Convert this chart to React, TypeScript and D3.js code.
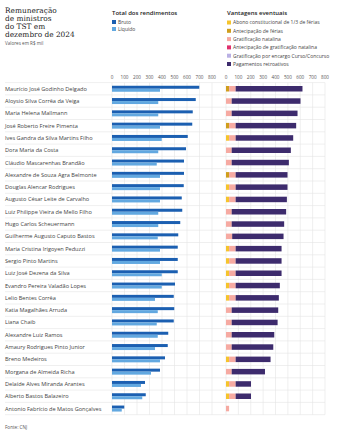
import React from "react";
import * as d3 from "d3";

const names = [
  "Maurício José Godinho Delgado",
  "Aloysio Silva Corrêa da Veiga",
  "Maria Helena Mallmann",
  "José Roberto Freire Pimenta",
  "Ives Gandra da Silva Martins Filho",
  "Dora Maria da Costa",
  "Cláudio Mascarenhas Brandão",
  "Alexandre de Souza Agra Belmonte",
  "Douglas Alencar Rodrigues",
  "Augusto César Leite de Carvalho",
  "Luiz Philippe Vieira de Mello Filho",
  "Hugo Carlos Scheuermann",
  "Guilherme Augusto Caputo Bastos",
  "Maria Cristina Irigoyen Peduzzi",
  "Sergio Pinto Martins",
  "Luiz José Dezena da Silva",
  "Evandro Pereira Valadão Lopes",
  "Lelio Bentes Corrêa",
  "Katia Magalhães Arruda",
  "Liana Chaib",
  "Alexandre Luiz Ramos",
  "Amaury Rodrigues Pinto Junior",
  "Breno Medeiros",
  "Morgana de Almeida Richa",
  "Delaíde Alves Miranda Arantes",
  "Alberto Bastos Balazeiro",
  "Antonio Fabrício de Matos Gonçalves",
];

const bruto = [698, 670, 646, 642, 606, 592, 576, 576, 574, 558, 562, 546, 530, 526, 526, 526, 504, 494, 498, 494, 450, 446, 424, 384, 264, 270, 98];
const liquido = [384, 370, 370, 384, 398, 370, 358, 384, 384, 384, 370, 370, 366, 384, 384, 398, 398, 344, 366, 358, 366, 344, 384, 312, 232, 242, 78];

const abono = [0, 0, 0, 0, 25, 0, 0, 0, 25, 25, 0, 0, 0, 25, 25, 25, 25, 25, 0, 0, 0, 0, 25, 0, 25, 25, 0];
const antecFerias = [25, 0, 0, 25, 0, 0, 0, 25, 0, 0, 0, 0, 0, 0, 0, 0, 0, 0, 0, 0, 0, 0, 0, 0, 0, 0, 0];
const gratNatal = [53, 46, 46, 53, 53, 46, 46, 53, 53, 53, 46, 46, 50, 53, 53, 53, 53, 53, 46, 46, 46, 46, 53, 46, 53, 53, 25];
const antecGrat = [0, 0, 0, 0, 0, 0, 0, 0, 0, 0, 0, 0, 0, 0, 0, 0, 0, 0, 0, 0, 0, 0, 0, 0, 0, 0, 0];
const gratCurso = [0, 0, 0, 0, 0, 0, 0, 0, 0, 0, 0, 0, 0, 0, 0, 0, 0, 0, 0, 0, 0, 0, 0, 0, 0, 0, 0];
const retroativos = [540, 556, 532, 489, 465, 478, 462, 419, 419, 414, 440, 424, 415, 371, 371, 371, 357, 349, 376, 371, 344, 336, 282, 269, 124, 124, 0];

const ticks = [0, 100, 200, 300, 400, 500, 600, 700, 800];

const titleLines = ["Remuneração", "de ministros", "do TST em", "dezembro de 2024"];
const totalLegend = ["Bruto", "Líquido"];
const vantLegend = [
  "Abono constitucional de 1/3 de férias",
  "Antecipação de férias",
  "Gratificação natalina",
  "Antecipação de gratificação natalina",
  "Gratificação por encargo Curso/Concurso",
  "Pagamentos retroativos",
];
const vantColors = ["#f5c42c", "#cf9e1c", "#f6aaa2", "#e0306d", "#b9b0e4", "#3d2b6d"];
const blueColors = ["#1b5fb1", "#62a8e0"];

export default function App() {
  const W = 356;
  const H = 436;
  const sans = "'Open Sans', 'DejaVu Sans', sans-serif";
  const serif = "'DejaVu Serif', Georgia, serif";

  const y = d3.scaleBand<number>().domain(d3.range(names.length)).range([82.6, 82.6 + 12.3 * names.length]).padding(0);
  const xT = d3.scaleLinear().domain([0, 800]).range([112, 212]);
  const xV = d3.scaleLinear().domain([0, 800]).range([226, 325]);

  const series = [abono, antecFerias, gratNatal, antecGrat, gratCurso, retroativos];
  const stackData = names.map((_, i) => {
    const o: any = { i };
    series.forEach((s, k) => (o["k" + k] = s[i]));
    return o;
  });
  const stacked = d3.stack<any>().keys(series.map((_, k) => "k" + k))(stackData);

  const top = y.range()[0];
  const bottom = y.range()[1];

  return (
    <svg width={W} height={H} style={{ position: "fixed", left: 0, top: 0, background: "#fff" }}>
      {/* title */}
      <g fontFamily={serif} fontSize={7.4} fill="#222">
        {titleLines.map((t, k) => (
          <text key={k} x={5} y={13 + k * 8}>{t}</text>
        ))}
      </g>
      <text x={5} y={45} fontFamily={sans} fontSize={4.6} fill="#555">Valores em R$ mil</text>

      {/* total legend */}
      <text x={112} y={15} fontFamily={sans} fontSize={6} fontWeight={600} fill="#222">Total dos rendimentos</text>
      {totalLegend.map((t, k) => (
        <g key={t}>
          <rect x={112} y={20 + k * 7} width={4} height={4} fill={blueColors[k]} />
          <text x={118} y={24 + k * 7} fontFamily={sans} fontSize={5} fill="#444">{t}</text>
        </g>
      ))}

      {/* vantagens legend */}
      <text x={227} y={15} fontFamily={sans} fontSize={6} fontWeight={600} fill="#222">Vantagens eventuais</text>
      {vantLegend.map((t, k) => (
        <g key={t}>
          <rect x={227} y={20.5 + k * 8.3} width={4} height={4} fill={vantColors[k]} />
          <text x={233} y={24.3 + k * 8.3} fontFamily={sans} fontSize={5} fill="#444">{t}</text>
        </g>
      ))}

      {/* gridlines */}
      <g stroke="#e4e4e4" strokeWidth={0.6}>
        {ticks.map((t) => (
          <line key={"a" + t} x1={xT(t)} x2={xT(t)} y1={top} y2={bottom} />
        ))}
        {ticks.map((t) => (
          <line key={"b" + t} x1={xV(t)} x2={xV(t)} y1={top} y2={bottom} />
        ))}
        {d3.range(names.length + 1).map((i) => (
          <line key={"h" + i} x1={5} x2={325} y1={top + i * y.bandwidth()} y2={top + i * y.bandwidth()} />
        ))}
      </g>

      {/* tick labels */}
      <g fontFamily={sans} fontSize={4.6} fill="#555" textAnchor="middle">
        {ticks.map((t) => (
          <text key={"ta" + t} x={xT(t)} y={79}>{t}</text>
        ))}
        {ticks.map((t) => (
          <text key={"tb" + t} x={xV(t)} y={79}>{t}</text>
        ))}
      </g>

      {/* names */}
      <g fontFamily={sans} fontSize={5.6} fill="#444">
        {names.map((n, i) => (
          <text key={n} x={5} y={(y(i) as number) + y.bandwidth() / 2 + 2}>{n}</text>
        ))}
      </g>

      {/* total bars */}
      {names.map((n, i) => {
        const cy = (y(i) as number) + y.bandwidth() / 2;
        return (
          <g key={"tb" + i}>
            <rect x={xT(0)} y={cy - 3} width={xT(bruto[i]) - xT(0)} height={3} fill={blueColors[0]} />
            <rect x={xT(0)} y={cy} width={xT(liquido[i]) - xT(0)} height={3} fill={blueColors[1]} />
          </g>
        );
      })}

      {/* stacked bars */}
      {stacked.map((s, k) => (
        <g key={"s" + k} fill={vantColors[k]}>
          {s.map((d, i) => {
            const cy = (y(i) as number) + y.bandwidth() / 2;
            const w = xV(d[1]) - xV(d[0]);
            if (w <= 0) return null;
            return <rect key={i} x={xV(d[0])} y={cy - 2.75} width={w} height={5.5} />;
          })}
        </g>
      ))}

      <text x={5} y={429} fontFamily={sans} fontSize={4.6} fill="#555">Fonte: CNJ</text>
    </svg>
  );
}
